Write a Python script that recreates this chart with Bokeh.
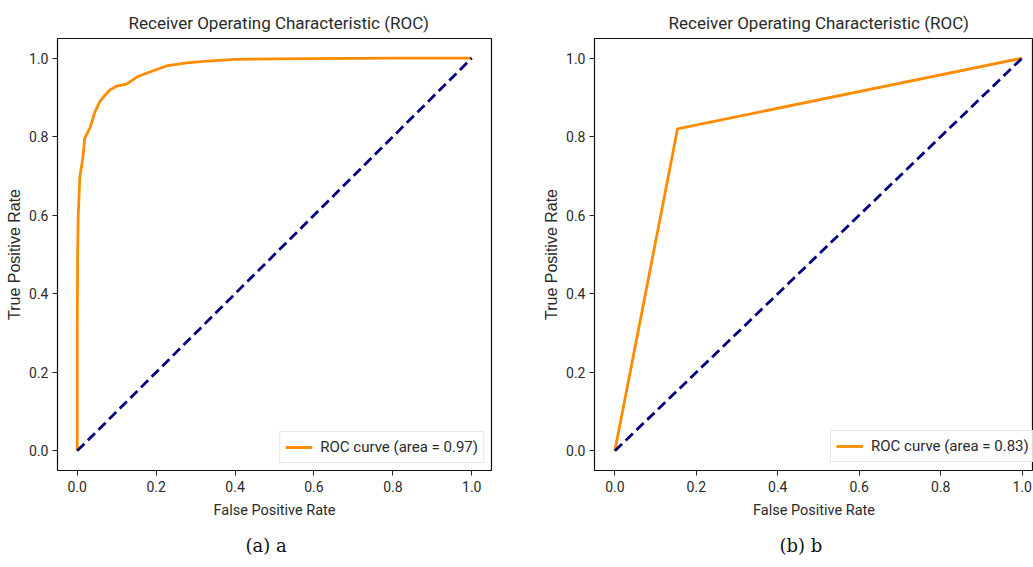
from bokeh.plotting import figure
from bokeh.models import Range1d, FixedTicker, Title, Legend, LegendItem
from bokeh.layouts import row
from bokeh.embed import file_html
from bokeh.resources import INLINE

# ---- data ----
fpr_a = [0.0, 0.0, 0.001, 0.0025, 0.0066, 0.0134, 0.019, 0.032, 0.045, 0.057,
         0.070, 0.083, 0.100, 0.125, 0.155, 0.193, 0.226, 0.277, 0.32, 0.40,
         0.50, 0.60, 0.80, 1.0]
tpr_a = [0.0, 0.30, 0.50, 0.596, 0.698, 0.740, 0.796, 0.821, 0.863, 0.889,
         0.905, 0.919, 0.929, 0.934, 0.954, 0.968, 0.980, 0.988, 0.992, 0.997,
         0.998, 0.999, 1.0, 1.0]
fpr_b = [0.0, 0.154, 1.0]
tpr_b = [0.0, 0.82, 1.0]
chance_x = [0.0, 1.0]
chance_y = [0.0, 1.0]
auc_a = 0.97
auc_b = 0.83
tick_values = [0.0, 0.2, 0.4, 0.6, 0.8, 1.0]
tick_labels = ["0.0", "0.2", "0.4", "0.6", "0.8", "1.0"]
title_text = "Receiver Operating Characteristic (ROC)"
x_label = "False Positive Rate"
y_label = "True Positive Rate"
captions = ["(a) a", "(b) b"]

SANS = "Roboto"


def make_plot(fpr, tpr, auc, caption, width, border_left, border_right,
              x_end, legend_loc, title_offset, caption_offset):
    p = figure(width=width, height=567, output_backend="svg", toolbar_location=None,
               x_range=Range1d(-0.05, x_end), y_range=Range1d(-0.05, 1.05),
               min_border_left=border_left, min_border_right=border_right,
               min_border_top=38, min_border_bottom=96)
    p.title.text = title_text
    p.title.text_font = SANS
    p.title.text_font_size = "17px"
    p.title.text_font_style = "normal"
    p.title.text_color = "#2a2a2a"
    p.title.align = "left"
    p.title.offset = title_offset
    p.title.standoff = 11
    p.xgrid.visible = False
    p.ygrid.visible = False
    p.outline_line_color = "#111111"
    p.outline_line_width = 1.2
    overrides = {v: s for v, s in zip(tick_values, tick_labels)}
    for ax in (p.xaxis[0], p.yaxis[0]):
        ax.ticker = FixedTicker(ticks=tick_values)
        ax.major_label_overrides = overrides
        ax.axis_line_color = None
        ax.major_tick_line_color = "#222222"
        ax.major_tick_out = 5
        ax.major_tick_in = 0
        ax.minor_tick_line_color = None
        ax.major_label_text_font = SANS
        ax.major_label_text_font_size = "14px"
        ax.major_label_text_color = "#2a2a2a"
        ax.axis_label_text_font_style = "normal"
        ax.axis_label_text_color = "#2a2a2a"
    p.xaxis[0].axis_label = x_label
    p.xaxis[0].axis_label_text_font = SANS
    p.xaxis[0].axis_label_text_font_size = "14.5px"
    p.xaxis[0].major_label_standoff = 5
    p.xaxis[0].axis_label_standoff = 7
    p.yaxis[0].axis_label = y_label
    p.yaxis[0].axis_label_text_font = "Liberation Sans"
    p.yaxis[0].axis_label_text_font_size = "16px"
    p.yaxis[0].major_label_standoff = 4
    p.yaxis[0].axis_label_standoff = 3

    roc = p.line(fpr, tpr, line_color="#ff8c00", line_width=2.8)
    p.line(chance_x, chance_y, line_color="#000080", line_width=2.8, line_dash="10 5")

    legend = Legend(items=[LegendItem(label="ROC curve (area = %.2f)" % auc, renderers=[roc])],
                    location=legend_loc, margin=0 if isinstance(legend_loc, tuple) else 7,
                    padding=5, spacing=0, glyph_width=27, glyph_height=20, label_height=20,
                    label_standoff=8, label_text_font=SANS, label_text_font_size="15px",
                    label_text_color="#2a2a2a", border_line_color="#d0d0d0",
                    border_line_width=1, background_fill_alpha=0.85)
    p.add_layout(legend)

    cap = Title(text=caption, align="left", offset=caption_offset,
                text_font="DejaVu Serif", text_font_size="18px",
                text_font_style="normal", text_color="#111111", standoff=23)
    p.add_layout(cap, "below")
    return p


p1 = make_plot(fpr_a, tpr_a, auc_a, captions[0], 540, 57, 49, 1.05,
               "bottom_right", 71, 188)
p2 = make_plot(fpr_b, tpr_b, auc_b, captions[1], 493, 54, 0, 1.028,
               (236, 8), 74, 185)

layout = row(p1, p2, spacing=0)
open("out.html", "w").write(file_html(layout, INLINE))
